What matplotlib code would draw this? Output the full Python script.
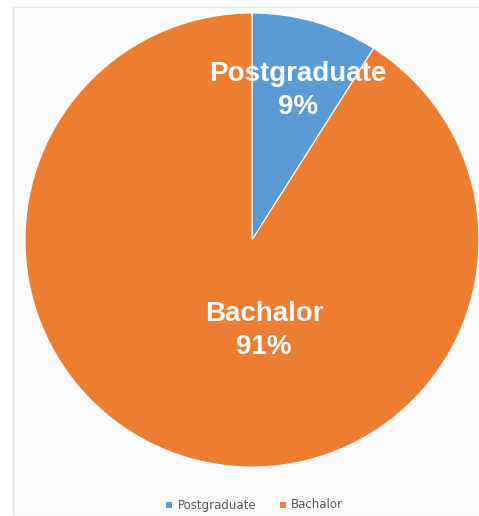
import matplotlib.pyplot as plt
from matplotlib.patches import Rectangle

# data
labels = ['Postgraduate', 'Bachalor']
shares = [9, 91]
colors = ['#5B9BD5', '#ED7D31']
# label centres in pie-radius units (Excel-style placement)
label_pos = [(0.203, 0.66), (0.053, -0.40)]

W, H = 479, 516
fig = plt.figure(figsize=(W / 100, H / 100), dpi=100)
fig.patch.set_facecolor('white')

# faint chart-area frame
fig.patches.append(Rectangle((13 / W, 0), 1, (H - 7) / H, transform=fig.transFigure,
                             facecolor='#fbfbfb', edgecolor='#e6e6e6', lw=1, zorder=-5))

R = 227
cx, cy = 252, H - 240
ax = fig.add_axes([(cx - R) / W, (cy - R) / H, 2 * R / W, 2 * R / H])
ax.set_zorder(2)
wedges, _ = ax.pie(shares, colors=colors, startangle=90, counterclock=False,
                   radius=1, wedgeprops=dict(linewidth=0.8, edgecolor='white'))
ax.set_xlim(-1, 1)
ax.set_ylim(-1, 1)
ax.set_aspect('equal')
ax.axis('off')

for name, v, (x, y) in zip(labels, shares, label_pos):
    ax.text(x, y, f'{name}\n{v}%', ha='center', va='center', color='#fdfdfd',
            fontsize=20, fontweight='bold', family='Liberation Sans', linespacing=1.35)

leg = fig.legend(wedges, labels, loc='center', bbox_to_anchor=(254 / W, 1 - 505 / H),
                 ncol=2, frameon=False, fontsize=8.5, handlelength=0.6, handleheight=0.6,
                 handletextpad=0.45, columnspacing=1.9, labelcolor='#595959')
leg.set_zorder(3)

fig.savefig('out.png', dpi=100)
